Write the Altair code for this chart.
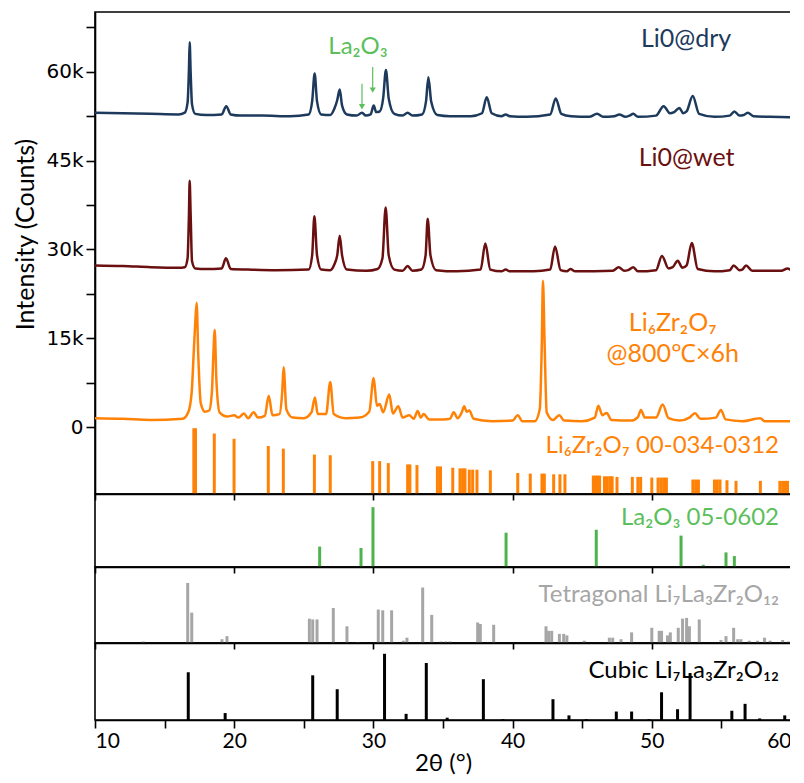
import altair as alt
import pandas as pd

# ---------------- data ----------------
# measured patterns: (2theta in degrees, intensity in k counts)
dry_pts = [(10.0, 53.1), (12, 53.0), (14, 52.9), (16.0, 52.8), (16.45, 53.1), (16.65, 54.8), (16.75, 60.5),
           (16.8, 65.0), (16.87, 60.0), (16.97, 54.5), (17.2, 52.9), (18.0, 52.7), (19.1, 52.8), (19.43, 54.2),
           (19.75, 52.8), (20.5, 52.6), (22, 52.6), (24, 52.5), (25.35, 52.8), (25.6, 55.0), (25.78, 59.7),
           (25.95, 55.0), (26.25, 52.8), (26.9, 52.7), (27.2, 53.8), (27.4, 55.2), (27.58, 57.0), (27.75, 54.3),
           (28.1, 52.8), (28.8, 52.6), (29.18, 53.1), (29.45, 52.6), (29.8, 52.8), (30.02, 54.3), (30.2, 53.2),
           (30.45, 53.3), (30.7, 55.5), (30.9, 60.3), (31.1, 55.5), (31.5, 52.9), (32.1, 52.6), (32.46, 53.1),
           (32.8, 52.6), (33.5, 52.8), (33.78, 55.0), (33.95, 59.1), (34.15, 55.0), (34.6, 52.7), (35.5, 52.5),
           (37, 52.5), (37.8, 53.0), (38.14, 55.7), (38.5, 53.0), (39.2, 52.5), (39.5, 52.8), (39.8, 52.5),
           (41, 52.4), (42.7, 52.8), (43.1, 55.5), (43.5, 52.9), (44.2, 52.5), (45.5, 52.4), (46.07, 52.9),
           (46.5, 52.4), (47.3, 52.5), (47.67, 52.8), (48.1, 52.4), (48.4, 52.6), (48.67, 52.9), (49.0, 52.4),
           (50.3, 52.6), (50.85, 54.2), (51.3, 53.0), (51.6, 53.2), (51.98, 53.9), (52.25, 53.0), (52.5, 53.3),
           (52.94, 55.9), (53.4, 52.9), (54.5, 52.4), (55.6, 52.6), (55.93, 53.3), (56.3, 52.6), (56.6, 52.7),
           (56.89, 53.1), (57.3, 52.5), (58.5, 52.4), (60.0, 52.3)]

wet_pts = [(10.0, 27.3), (12, 27.2), (14, 27.0), (16.0, 26.9), (16.45, 27.0), (16.65, 28.5), (16.75, 36.0),
           (16.8, 41.6), (16.87, 36.0), (16.97, 28.0), (17.2, 26.8), (18.0, 26.7), (19.1, 26.8), (19.41, 28.5),
           (19.75, 26.7), (21, 26.6), (23, 26.5), (25.35, 26.6), (25.6, 29.0), (25.76, 35.6), (25.95, 29.0),
           (26.25, 26.6), (26.9, 26.5), (27.2, 27.5), (27.4, 29.0), (27.58, 32.3), (27.75, 29.0), (28.1, 26.6),
           (29.5, 26.4), (30.3, 26.7), (30.65, 28.5), (30.88, 37.1), (31.1, 29.0), (31.5, 26.6), (32.1, 26.4),
           (32.46, 27.2), (32.8, 26.4), (33.45, 26.6), (33.75, 29.0), (33.9, 35.2), (34.1, 29.0), (34.5, 26.5),
           (36, 26.3), (37.7, 26.6), (38.04, 31.0), (38.4, 26.6), (39.2, 26.3), (39.5, 26.6), (39.8, 26.3),
           (41.5, 26.3), (42.7, 26.6), (43.05, 30.5), (43.45, 26.5), (43.9, 26.3), (44.15, 26.7), (44.5, 26.3),
           (47.2, 26.4), (47.62, 27.0), (48.0, 26.4), (48.3, 26.5), (48.67, 27.0), (49.0, 26.3), (50.3, 26.5),
           (50.73, 28.9), (51.2, 26.8), (51.5, 27.0), (51.86, 28.1), (52.2, 26.9), (52.5, 27.3), (52.87, 31.1),
           (53.3, 26.7), (54.5, 26.3), (55.6, 26.5), (55.88, 27.3), (56.3, 26.5), (56.5, 26.6), (56.77, 27.3),
           (57.2, 26.4), (59.3, 26.4), (59.75, 26.8), (60.0, 26.5)]

li6_pts = [(10.0, 1.5), (12, 1.4), (14, 1.2), (16.3, 1.4), (16.7, 2.5), (16.95, 6.0), (17.1, 13.0), (17.2, 17.5),
           (17.3, 21.0), (17.42, 12.0), (17.6, 4.0), (17.9, 2.6), (18.2, 2.8), (18.4, 6.0), (18.5, 12.0),
           (18.6, 16.4), (18.72, 8.0), (18.95, 2.5), (19.5, 1.8), (20.0, 2.0), (20.3, 1.6), (20.7, 2.3),
           (21.0, 1.5), (21.4, 2.5), (21.7, 1.6), (22.2, 1.9), (22.48, 5.3), (22.75, 2.0), (23.25, 2.2),
           (23.45, 6.0), (23.55, 10.1), (23.75, 3.0), (24.2, 1.6), (25.0, 1.5), (25.55, 2.5), (25.8, 5.0),
           (26.0, 2.2), (26.6, 2.2), (26.9, 7.6), (27.15, 2.2), (28.0, 1.5), (29.0, 1.6), (29.7, 2.6),
           (30.02, 8.3), (30.25, 3.6), (30.45, 3.9), (30.7, 2.5), (31.14, 5.5), (31.4, 2.3), (31.79, 3.5),
           (32.1, 1.6), (32.58, 2.0), (32.9, 1.4), (33.18, 2.7), (33.4, 1.6), (33.61, 2.2), (34.0, 1.3),
           (35.0, 1.3), (35.5, 1.4), (35.77, 2.5), (36.05, 1.5), (36.35, 2.5), (36.53, 3.5), (36.7, 2.6),
           (36.89, 2.8), (37.2, 1.4), (38.5, 1.0), (40.0, 1.1), (40.37, 2.0), (40.7, 1.0), (41.6, 1.0),
           (41.95, 3.0), (42.1, 14.3), (42.18, 24.7), (42.3, 14.0), (42.45, 2.5), (42.9, 1.2), (43.35, 2.0),
           (43.7, 1.1), (45.0, 1.0), (45.9, 1.6), (46.16, 3.6), (46.45, 2.0), (46.76, 2.4), (47.1, 1.2),
           (48.5, 1.1), (49.0, 1.7), (49.22, 2.9), (49.5, 1.6), (50.3, 1.6), (50.78, 3.8), (51.2, 1.5),
           (52.0, 1.1), (52.7, 1.6), (53.1, 2.35), (53.5, 1.4), (54.6, 1.6), (54.97, 2.9), (55.3, 1.3),
           (56.5, 1.0), (57.79, 1.5), (58.1, 1.0), (60.0, 1.0)]

# reference cards: (2theta, relative intensity %)
li6_ref = [(17.1, 100), (17.22, 100), (18.57, 92), (19.99, 84), (22.45, 73), (23.53, 69), (25.76, 60),
           (26.9, 59), (29.95, 50), (30.45, 50), (31.07, 47), (32.46, 45), (32.62, 45), (33.13, 44),
           (34.6, 42), (34.82, 42), (35.7, 40), (36.22, 39), (36.41, 39), (36.58, 39), (36.89, 37),
           (37.13, 37), (37.44, 37), (38.4, 36), (40.37, 32), (41.27, 31), (42.11, 31), (42.28, 31),
           (42.95, 30), (43.4, 30), (43.76, 30), (45.8, 28), (45.95, 28), (46.1, 28), (46.25, 28),
           (46.6, 27), (46.8, 27), (47.0, 27), (47.15, 27), (47.5, 26), (48.6, 26), (49.0, 26), (49.2, 26),
           (50.0, 25), (50.45, 25), (50.65, 25), (50.85, 25), (51.05, 25), (52.95, 22), (53.15, 22),
           (53.35, 22), (54.5, 22), (54.7, 22), (54.9, 22), (55.4, 21), (56.05, 20), (57.8, 20),
           (59.2, 20), (59.4, 20), (59.6, 20), (59.75, 20)]

la_ref = [(26.14, 28), (29.11, 26), (29.97, 82), (39.53, 47), (46.01, 51), (52.1, 43), (53.7, 3),
          (55.33, 20), (55.93, 15)]

tet_ref = [(13.47, 2), (16.66, 79), (16.95, 40), (19.12, 5), (19.48, 9), (25.4, 32), (25.64, 31),
           (25.95, 31), (27.12, 46), (28.1, 22), (28.87, 1), (30.35, 44), (30.67, 43), (31.31, 43),
           (32.15, 3), (32.41, 7), (33.54, 73), (34.19, 37), (34.86, 2), (35.2, 2), (35.5, 2), (37.49, 27),
           (37.68, 25), (38.64, 24), (42.4, 22), (42.59, 16), (42.81, 16), (43.36, 12), (43.67, 12),
           (43.9, 10), (45.15, 3), (46.95, 7), (47.19, 7), (47.79, 5), (48.55, 14), (50.0, 20), (50.53, 16),
           (50.7, 16), (51.13, 10), (51.33, 14), (51.9, 20), (52.21, 32), (52.5, 33), (52.7, 22),
           (53.41, 31), (54.97, 4), (55.33, 9), (55.88, 20), (56.17, 5), (56.4, 5), (57.0, 3), (57.6, 3),
           (58.1, 7), (58.5, 3), (59.4, 4), (59.8, 2)]

cub_ref = [(16.7, 62), (19.35, 9), (25.64, 58), (27.4, 40), (30.8, 86), (32.35, 8), (33.8, 74), (35.3, 3),
           (37.9, 53), (39.3, 1), (42.9, 27), (44.05, 6), (45.3, 1), (47.45, 11), (48.55, 11), (49.8, 1),
           (50.7, 36), (51.85, 14), (52.75, 61), (55.75, 12), (56.7, 21), (57.75, 2), (59.55, 6)]

series_names = ["Li0@dry", "Li0@wet", "Li6Zr2O7"]
series_colors = ["#1d3a5c", "#6b1010", "#ff8207"]
y_tick_values = [0, 7.5, 15, 22.5, 30, 37.5, 45, 52.5, 60, 67.5]
x_major = [10, 20, 30, 40, 50, 60]
x_all = [10, 15, 20, 25, 30, 35, 40, 45, 50, 55, 60]

# ---------------- build tables ----------------
frames = []
for name, pts in zip(series_names, [dry_pts, wet_pts, li6_pts]):
    d = pd.DataFrame(pts, columns=["x", "y"])
    d["s"] = name
    d["o"] = range(len(d))
    frames.append(d)
lines_df = pd.concat(frames, ignore_index=True)

STICK_BASE, STICK_SPAN = -11.3, 11.1   # orange card drawn inside main panel below zero
li6_df = pd.DataFrame(li6_ref, columns=["x", "i"])
li6_df["top"] = STICK_BASE + li6_df["i"] / 100 * STICK_SPAN
li6_df["base"] = STICK_BASE
la_df = pd.DataFrame(la_ref, columns=["x", "i"])
tet_df = pd.DataFrame(tet_ref, columns=["x", "i"])
cub_df = pd.DataFrame(cub_ref, columns=["x", "i"])

FONT = "Lato"
W = 696
xscale = alt.Scale(domain=[10, 60], nice=False, zero=False)
yscale = alt.Scale(domain=[-11.3, 70.1], nice=False, zero=False)

x_inner_axis = alt.Axis(values=x_major, labels=False, title=None, tickSize=6, domain=True, grid=False)

X_main = alt.X("x:Q", scale=xscale, axis=x_inner_axis)
Y_main = alt.Y("y:Q", scale=yscale,
               axis=alt.Axis(values=y_tick_values,
                             labelExpr="datum.value == 0 ? '0' : (datum.value % 15 == 0 ? datum.value + 'k' : '')",
                             title="Intensity (Counts)", tickSize=9, labelFont="DejaVu Sans", labelFontSize=20,
                             labelPadding=3, titleFont=FONT, titleFontSize=25, titleFontWeight="normal",
                             titleX=-57, titleY=222, grid=False))

lines = alt.Chart(lines_df).mark_line(strokeWidth=2.5, interpolate="monotone").encode(
    x=X_main, y=Y_main,
    color=alt.Color("s:N", scale=alt.Scale(domain=series_names, range=series_colors), legend=None),
    detail="s:N", order="o:Q")

li6_sticks = alt.Chart(li6_df).mark_rule(color="#ff8207", strokeWidth=3).encode(
    x=X_main, y=alt.Y("top:Q", scale=yscale), y2="base:Q")


def label(text, x, y, color, align="center", size=24):
    return alt.Chart().mark_text(text=text, color=color, font=FONT, fontSize=size, align=align,
                                 baseline="middle").encode(x=alt.datum(x), y=alt.datum(y))


def arrow(x, y_from, y_to, color="#5cbf5c"):
    shaft = alt.Chart().mark_rule(color=color, strokeWidth=1.2).encode(
        x=alt.datum(x), y=alt.datum(y_from), y2=alt.datum(y_to + 0.9))
    head = alt.Chart().mark_point(shape="triangle-down", filled=True, color=color, size=38, opacity=1).encode(
        x=alt.datum(x), y=alt.datum(y_to + 0.6))
    return shaft + head


main = alt.layer(
    lines, li6_sticks,
    label("Li0@dry", 52.46, 65.5, "#1d3a5c", size=25),
    label("Li0@wet", 52.5, 45.4, "#6b1010", size=25),
    label("Li₆Zr₂O₇", 51.5, 17.6, "#ff8207", size=25),
    label("@800℃×6h", 51.5, 12.3, "#ff8207", size=25),
    label("Li₆Zr₂O₇ 00-034-0312", 59.14, -3.2, "#ff8207", align="right"),
    label("La₂O₃", 28.9, 64.2, "#5cbf5c", size=24),
    arrow(29.18, 58.0, 53.5),
    arrow(29.95, 60.8, 56.3),
).properties(width=W, height=482)


def stick_panel(df, color, text, text_color, text_y, h, last=False):
    if last:
        xaxis = alt.Axis(values=x_all, labelExpr="datum.value % 10 == 0 ? datum.label : ''",
                         title="2θ (°)", tickSize=8, labelFont=FONT, labelFontSize=21, labelPadding=2,
                         titleFont=FONT, titleFontSize=24, titleFontWeight="normal", titlePadding=0, grid=False)
    else:
        xaxis = x_inner_axis
    rules = alt.Chart(df).mark_rule(color=color, strokeWidth=3).encode(
        x=alt.X("x:Q", scale=xscale, axis=xaxis),
        y=alt.Y("i:Q", scale=alt.Scale(domain=[0, 100], nice=False), axis=None),
        y2=alt.datum(0))
    return alt.layer(rules, label(text, 59.14, text_y, text_color, align="right")).properties(width=W, height=h)


la_panel = stick_panel(la_df, "#4db34d", "La₂O₃ 05-0602", "#5cbf5c", 67, 73)
tet_panel = stick_panel(tet_df, "#a6a6a6", "Tetragonal Li₇La₃Zr₂O₁₂", "#a6a6a6", 63.6, 76)
cub_panel = stick_panel(cub_df, "#000000", "Cubic Li₇La₃Zr₂O₁₂", "#000000", 64, 77, last=True)

chart = alt.vconcat(main, la_panel, tet_panel, cub_panel, spacing=0, bounds="flush").properties(
    padding={"left": 4, "top": 3, "right": -7, "bottom": 1}
).configure_view(stroke="black", strokeWidth=1.6).configure_axis(
    domainColor="black", tickColor="black", domainWidth=1.6, tickWidth=1.6,
    labelColor="black", titleColor="black")

chart.save("out.html", embed_options={"renderer": "svg", "actions": False})
